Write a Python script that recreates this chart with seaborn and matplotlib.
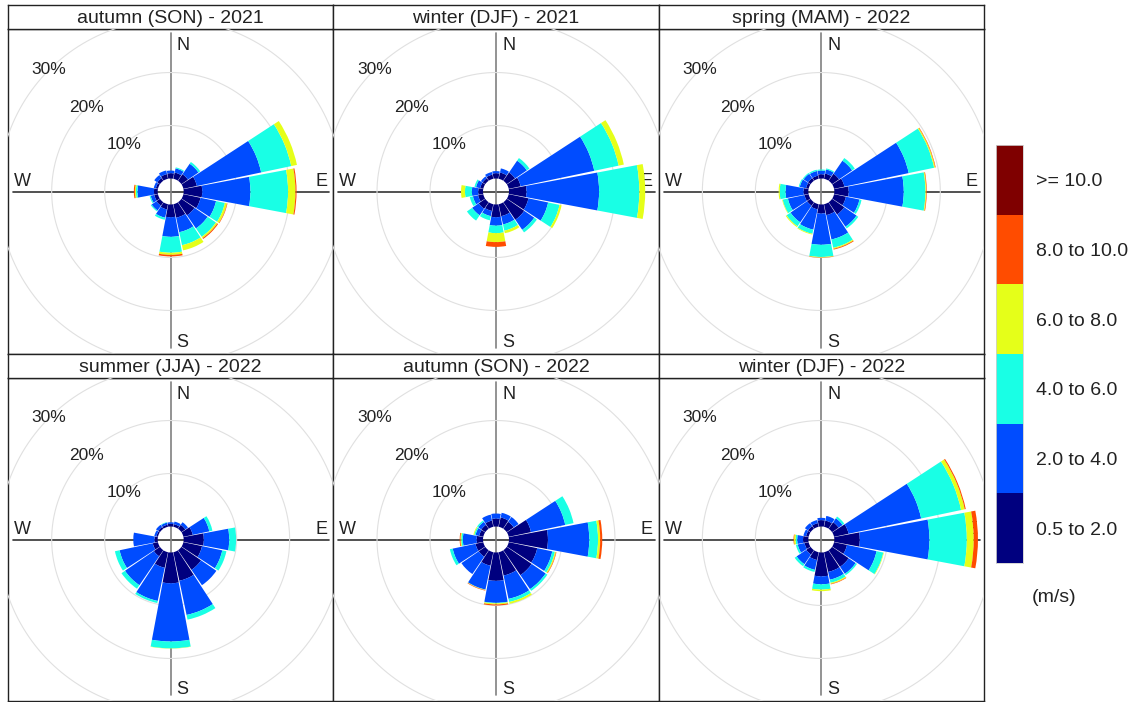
import numpy as np
import pandas as pd
import seaborn as sns
import matplotlib
matplotlib.use("Agg")
import matplotlib.pyplot as plt
from matplotlib.colors import ListedColormap
from matplotlib.patches import Rectangle

# ---------------- data ----------------
directions = [0, 22.5, 45, 67.5, 90, 112.5, 135, 157.5,
              180, 202.5, 225, 247.5, 270, 292.5, 315, 337.5]
speed_labels = ["0.5 to 2.0", "2.0 to 4.0", "4.0 to 6.0", "6.0 to 8.0",
                "8.0 to 10.0", ">= 10.0"]
speed_colors = ["#00007F", "#004CFF", "#19FFE5", "#E5FF19", "#FF4C00", "#7F0000"]
titles = ["autumn (SON) - 2021", "winter (DJF) - 2021", "spring (MAM) - 2022",
          "summer (JJA) - 2022", "autumn (SON) - 2022", "winter (DJF) - 2022"]
ring_values = [10, 20, 30]

# cumulative frequency (%) at the top of each speed class
# columns: <=2, <=4, <=6, <=8, <=10 m/s ; rows: N, NNE, ... NNW
autumn_2021 = [
    [1.0, 1.5, 1.5, 1.5, 1.5], [1.2, 2.0, 2.2, 2.2, 2.2], [1.5, 3.9, 4.3, 4.3, 4.3],
    [2.6, 15.0, 20.8, 21.9, 21.9], [3.5, 12.6, 19.7, 21.1, 21.3], [3.3, 6.3, 8.0, 8.4, 8.5],
    [3.0, 6.0, 7.9, 8.2, 8.4], [2.6, 5.4, 7.9, 8.9, 8.9], [2.4, 6.1, 9.1, 9.5, 9.8],
    [1.0, 2.6, 3.0, 3.0, 3.0], [0.8, 1.9, 2.1, 2.1, 2.1], [0.7, 1.4, 1.6, 1.6, 1.6],
    [0.7, 3.8, 4.1, 4.3, 4.5], [0.4, 0.8, 0.8, 0.8, 0.8], [0.6, 1.3, 1.3, 1.3, 1.3],
    [0.9, 1.6, 1.6, 1.6, 1.6]]
winter_2021 = [
    [1.0, 1.4, 1.4, 1.4, 1.4], [1.2, 2.0, 2.0, 2.0, 2.0], [1.9, 4.6, 5.2, 5.2, 5.2],
    [2.3, 16.5, 21.2, 22.2, 22.2], [3.3, 17.0, 24.6, 25.7, 25.7], [3.8, 7.6, 9.8, 10.2, 10.2],
    [4.0, 6.3, 6.9, 6.9, 6.9], [2.3, 3.9, 5.1, 5.6, 5.6], [2.4, 4.0, 5.4, 7.1, 8.0],
    [1.3, 2.3, 3.1, 3.1, 3.1], [1.5, 3.0, 4.2, 4.2, 4.2], [1.0, 2.0, 2.6, 2.6, 2.6],
    [0.9, 2.1, 3.4, 4.15, 4.15], [0.6, 1.4, 1.7, 1.7, 1.7], [0.6, 1.0, 1.0, 1.0, 1.0],
    [0.8, 1.3, 1.3, 1.3, 1.3]]
spring_2022 = [
    [0.8, 1.5, 1.7, 1.7, 1.7], [1.0, 1.8, 2.0, 2.0, 2.0], [1.6, 4.6, 5.2, 5.2, 5.2],
    [2.0, 14.4, 19.3, 19.5, 19.6], [2.7, 13.1, 17.2, 17.35, 17.45], [2.3, 4.9, 5.3, 5.3, 5.3],
    [2.8, 5.6, 6.0, 6.0, 6.0], [2.1, 6.8, 8.4, 8.6, 8.75], [1.7, 7.6, 9.9, 10.0, 10.05],
    [1.0, 4.9, 5.7, 5.85, 5.85], [0.8, 4.6, 5.5, 5.7, 5.7], [0.8, 4.0, 5.0, 5.1, 5.1],
    [0.9, 4.3, 5.4, 5.6, 5.6], [0.5, 1.7, 1.9, 1.9, 1.9], [0.6, 1.6, 1.8, 1.8, 1.8],
    [0.6, 1.5, 1.75, 1.75, 1.75]]
summer_2022 = [
    [0.5, 0.8, 0.8, 0.8, 0.8], [0.5, 1.0, 1.0, 1.0, 1.0], [0.9, 1.5, 1.5, 1.5, 1.5],
    [1.8, 5.0, 5.6, 5.6, 5.6], [3.8, 8.6, 9.9, 9.9, 9.9], [3.6, 7.5, 8.3, 8.3, 8.3],
    [4.5, 8.0, 8.0, 8.0, 8.0], [5.5, 12.1, 13.0, 13.0, 13.0], [5.8, 16.8, 18.1, 18.15, 18.15],
    [3.0, 9.4, 9.8, 9.8, 9.8], [1.4, 8.0, 8.8, 8.8, 8.8], [1.0, 7.4, 8.3, 8.3, 8.3],
    [0.6, 4.6, 4.6, 4.6, 4.6], [0.3, 0.7, 0.7, 0.7, 0.7], [0.4, 0.9, 0.9, 0.9, 0.9],
    [0.4, 0.8, 0.9, 0.9, 0.9]]
autumn_2022 = [
    [1.5, 2.45, 2.45, 2.45, 2.45], [1.8, 2.7, 2.7, 2.7, 2.7], [1.6, 2.7, 2.7, 2.7, 2.7],
    [4.3, 10.9, 12.5, 12.5, 12.5], [7.35, 15.15, 16.8, 17.2, 17.6], [5.5, 8.4, 8.9, 9.1, 9.2],
    [5.7, 8.9, 9.3, 9.3, 9.3], [4.5, 9.0, 9.6, 9.95, 9.95], [5.35, 9.5, 9.6, 9.8, 10.0],
    [2.6, 7.2, 7.25, 7.3, 7.4], [1.5, 5.45, 5.45, 5.45, 5.45], [1.5, 5.9, 6.45, 6.45, 6.45],
    [1.2, 3.8, 4.1, 4.25, 4.4], [0.8, 1.5, 1.75, 1.9, 1.9], [0.9, 1.6, 1.88, 1.88, 1.88],
    [1.2, 2.34, 2.34, 2.34, 2.34]]
winter_2022 = [
    [1.2, 1.64, 1.64, 1.64, 1.64], [1.2, 2.1, 2.1, 2.1, 2.1], [1.5, 2.4, 2.8, 2.8, 2.8],
    [2.8, 16.8, 24.5, 25.2, 25.4], [4.8, 17.95, 25.0, 26.3, 27.1], [2.5, 8.2, 9.5, 9.6, 9.6],
    [3.8, 5.4, 5.7, 5.7, 5.7], [3.8, 5.3, 5.9, 6.1, 6.2], [4.5, 6.0, 7.0, 7.3, 7.3],
    [1.5, 3.4, 3.8, 3.8, 3.8], [1.0, 3.2, 3.65, 3.65, 3.65], [0.8, 2.1, 2.45, 2.45, 2.45],
    [1.0, 2.1, 2.4, 2.7, 2.8], [0.5, 1.0, 1.0, 1.0, 1.0], [0.6, 1.3, 1.3, 1.3, 1.3],
    [0.7, 1.3, 1.3, 1.3, 1.3]]
panels = [autumn_2021, winter_2021, spring_2022, summer_2022, autumn_2022, winter_2022]

# ---------------- style ----------------
sns.set_style("white")
plt.rcParams["font.family"] = ["Liberation Sans", "DejaVu Sans"]

FW, FH = 1129, 702
fig = plt.figure(figsize=(FW / 100, FH / 100), dpi=100)
fig.patch.set_facecolor("white")


def frac(x, y, w, h):
    """pixel box (top-left origin) -> figure fraction rect"""
    return [x / FW, 1 - (y + h) / FH, w / FW, h / FH]


PX = 5.3          # pixels per percent
OFF = 2.45        # central hole (percent units)
RMAX = 31.0       # polar extent (percent units)
S = 2 * RMAX * PX

left0, colw = 8, (984 - 8) / 3
rows = [(29, 325), (378, 323)]
strip_h = 24
theta = np.deg2rad(directions)
bar_w = np.deg2rad(22.5 - 1.3)

for i, (title, cum) in enumerate(zip(titles, panels)):
    r, c = divmod(i, 3)
    x0 = left0 + colw * c
    y0, ph = rows[r]
    cx, cy = x0 + colw / 2, y0 + ph / 2

    # frame axes
    fax = fig.add_axes(frac(x0, y0, colw, ph))
    fax.set_xlim(-colw / 2, colw / 2)
    fax.set_ylim(-ph / 2, ph / 2)
    fax.set_xticks([]); fax.set_yticks([])
    for sp in fax.spines.values():
        sp.set_color("#222222"); sp.set_linewidth(1.0)
    fax.axhline(0, xmin=0.015, xmax=0.988, color="#333333", lw=1.2, zorder=1)
    fax.axvline(0, ymin=0.02, ymax=0.988, color="#808080", lw=1.2, zorder=1)
    fs = 13
    fax.text(6, ph / 2 - 8, "N", ha="left", va="top", fontsize=fs, color="#222")
    fax.text(colw / 2 - 6, 5, "E", ha="right", va="baseline", fontsize=fs, color="#222")
    fax.text(-colw / 2 + 6, 5, "W", ha="left", va="baseline", fontsize=fs, color="#222")
    fax.text(6, -ph / 2 + 7, "S", ha="left", va="baseline", fontsize=fs, color="#222")

    # strip
    sax = fig.add_axes(frac(x0, y0 - strip_h, colw, strip_h))
    sax.set_xticks([]); sax.set_yticks([])
    for sp in sax.spines.values():
        sp.set_color("#222222"); sp.set_linewidth(1.0)
    sax.text(0.5, 0.45, title, ha="center", va="center", fontsize=14,
             transform=sax.transAxes, color="#222")

    # polar rose
    pax = fig.add_axes(frac(cx - S / 2, cy - S / 2, S, S), projection="polar")
    pax.set_theta_zero_location("N")
    pax.set_theta_direction(-1)
    pax.set_ylim(0, RMAX)
    pax.set_axis_off()
    clip = Rectangle((x0 / FW, 1 - (y0 + ph) / FH), colw / FW, ph / FH,
                     transform=fig.transFigure)
    tt = np.linspace(0, 2 * np.pi, 600)
    for v in ring_values:
        ln, = pax.plot(tt, np.full_like(tt, v + OFF), color="#e0e0e0", lw=0.8, zorder=0)
        ln.set_clip_path(clip)
        pax.text(np.deg2rad(315), v + OFF, f"{v}%", ha="center", va="center",
                 fontsize=12.5, color="#222", zorder=3)

    arr = np.array(cum)
    inc = np.diff(np.column_stack([np.zeros(len(arr)), arr]), axis=1)
    bottom = np.full(len(arr), OFF)
    for k in range(inc.shape[1]):
        pax.bar(theta, inc[:, k], width=bar_w, bottom=bottom, color=speed_colors[k],
                edgecolor="none", linewidth=0, zorder=2)
        bottom = bottom + inc[:, k]

# ---------------- legend (seaborn heatmap as colour key) ----------------
lax = fig.add_axes(frac(996, 145, 27, 418))
key = pd.DataFrame({"ws": np.arange(len(speed_labels))[::-1]},
                   index=speed_labels[::-1])
sns.heatmap(key, ax=lax, cmap=ListedColormap(speed_colors), vmin=-0.5,
            vmax=len(speed_labels) - 0.5, cbar=False, xticklabels=False,
            yticklabels=True, linewidths=0)
lax.yaxis.tick_right()
lax.set_ylabel("")
lax.tick_params(axis="y", length=0, labelsize=14, pad=9, labelcolor="#222",
                labelrotation=0)
for sp in lax.spines.values():
    sp.set_visible(True); sp.set_color("#cfcfcf"); sp.set_linewidth(0.6)
fig.text(1032 / FW, 1 - 597 / FH, "(m/s)", fontsize=14, color="#222",
         ha="left", va="center")

fig.savefig("out.png", dpi=100, facecolor="white")
